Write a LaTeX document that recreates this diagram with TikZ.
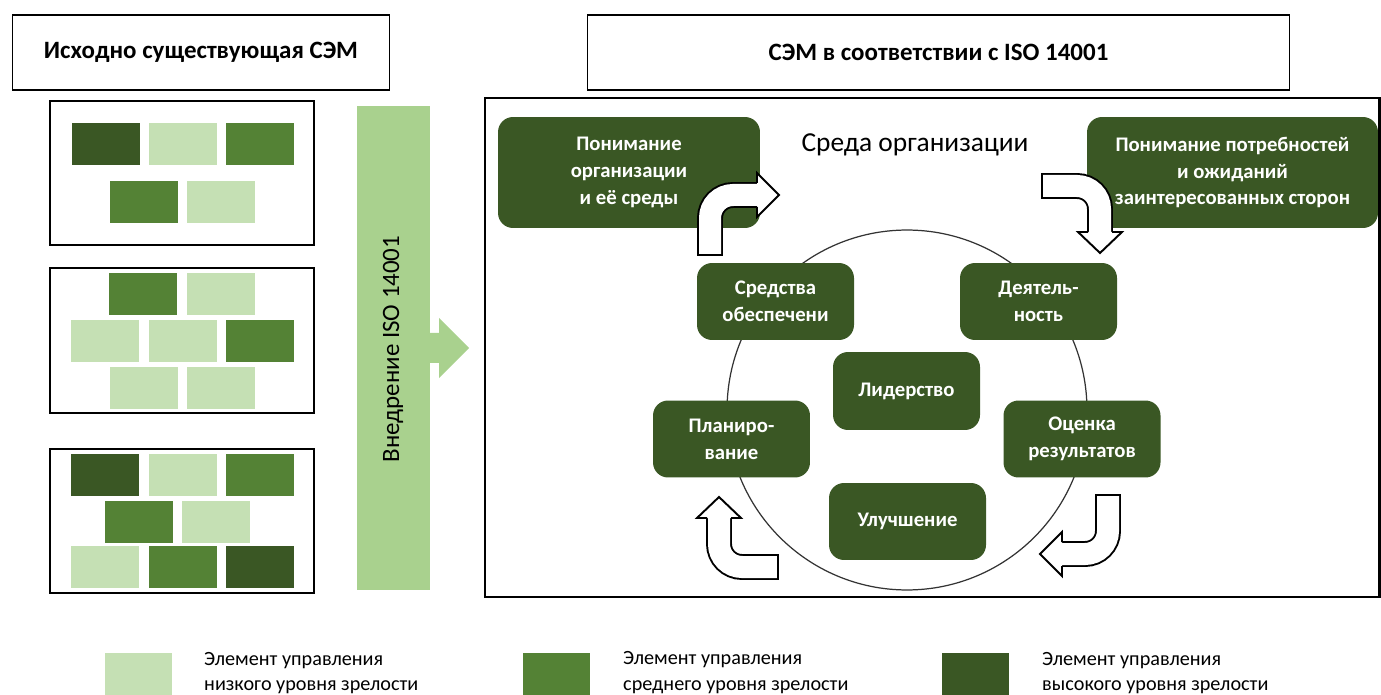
\documentclass[tikz,border=0pt]{standalone}
\usepackage{fontspec}
\setmainfont{Carlito}
\usepackage{tikz}

\definecolor{semdark}{HTML}{3A5724}
\definecolor{semmed}{HTML}{548235}
\definecolor{semlight}{HTML}{C5E0B4}
\definecolor{sembar}{HTML}{A9D18E}

\tikzset{
  header/.style={draw, line width=0.6pt, minimum height=1.5cm, font=\fontsize{14.2}{16}\selectfont\bfseries},
  stagebox/.style={fill=semdark, rounded corners=0.3cm, text=white, align=center, minimum width=3.14cm, minimum height=1.54cm, font=\fontsize{11.8}{15.3}\selectfont\bfseries},
  ctxbox/.style={stagebox, minimum height=2.22cm},
  turn/.style={line width=1.1pt, double=white, double distance=0.44cm, rounded corners=0.46cm},
  turnhead/.style={line width=1.1pt, fill=white, line join=miter},
  legtext/.style={anchor=west, align=left, font=\fontsize{11.5}{14.7}\selectfont},
}

\begin{document}
\begin{tikzpicture}[x=0.02cm, y=-0.02cm]
                \useasboundingbox (0,0) rectangle (1381,695);
                % Headers
                \node[header, minimum width=7.56cm] (hdrold) at (201,52.5) {Исходно существующая СЭМ};
                \node[header, minimum width=14.06cm] (hdrnew) at (938.5,52.5) {СЭМ в соответствии с ISO 14001};
                % Existing system
                \foreach \x/\y/\c in {72/123/semdark, 149/123/semlight, 226/123/semmed, 110/181/semmed, 187/181/semlight,
                    109/273/semmed, 187/273/semlight, 71/320/semlight, 149/320/semlight, 226/320/semmed, 110/367/semlight, 187/367/semlight,
                    71/454/semdark, 149/454/semlight, 226/454/semmed, 105/501/semmed, 182/501/semlight, 71/546/semlight, 149/546/semmed, 226/546/semdark}
                    \fill[\c] (\x,\y) rectangle ++(68,42);
                \foreach \y/\h in {101/245, 268/413, 449/593}
                    \draw[line width=1.5pt] (50,\y) rectangle (314,\h);
                % Implementation bar
                \fill[sembar] (357,106) rectangle (430,590);
                \fill[sembar] (430,333) -- (439,333) -- (439,318) -- (469,348) -- (439,378) -- (439,363) -- (430,363) -- cycle;
                \node[rotate=90, font=\fontsize{14.2}{16}\selectfont] (impl) at (393,349) {Внедрение ISO 14001};
                % ISO 14001 system
                \draw[line width=1.2pt] (485,98) rectangle (1379.5,597);
                \node[font=\fontsize{15.6}{18}\selectfont] (envtitle) at (915,145) {Среда организации};
                \draw[black!80, line width=0.7pt] (907,410) circle [radius=3.6cm];
                % Nodes
                \node[ctxbox, minimum width=5.24cm] (ctxorg) at (629,172.5) {Понимание\\организации\\и её среды};
                \node[ctxbox, minimum width=5.82cm] (ctxparties) at (1232.5,172.5) {Понимание потребностей\\и ожиданий\\заинтересованных сторон};
                \node[stagebox] (support) at (775.5,301.5) {Средства\\обеспечени};
                \node[stagebox] (operation) at (1038.5,301.5) {Деятель-\\ность};
                \node[stagebox, minimum width=2.94cm, minimum height=1.56cm] (leader) at (906.5,391) {Лидерство};
                \node[stagebox] (planning) at (731.5,439) {Планиро-\\вание};
                \node[stagebox] (evaluation) at (1082,439) {Оценка\\результатов};
                \node[stagebox] (improvement) at (907.5,521.5) {Улучшение};
                % Turn arrows
                \draw[turn] (710,255) -- (710,195) -- (757,195);
                \filldraw[turnhead] (757,183) -- (757,173) -- (779,195) -- (757,217) -- (757,207);
                \draw[line width=1.1pt] (697,255) -- (723,255);
                \draw[turn] (1042,186) -- (1100,186) -- (1100,232);
                \filldraw[turnhead] (1088,232) -- (1078,232) -- (1100,253) -- (1122,232) -- (1112,232);
                \draw[line width=1.1pt] (1042,173) -- (1042,199);
                \draw[turn] (1108,495) -- (1108,554) -- (1062,554);
                \filldraw[turnhead] (1062,542) -- (1062,532) -- (1040,554) -- (1062,576) -- (1062,566);
                \draw[line width=1.1pt] (1095,495) -- (1121,495);
                \draw[turn] (778,567) -- (719,567) -- (719,518);
                \filldraw[turnhead] (707,518) -- (697,518) -- (719,497) -- (741,518) -- (731,518);
                \draw[line width=1.1pt] (778,554) -- (778,580);
                % Legend
                \fill[semlight] (105,653) rectangle ++(67,42);
                \fill[semmed] (523,653) rectangle ++(67,42);
                \fill[semdark] (942,653) rectangle ++(67,42);
                \node[legtext] (leglow) at (198,673) {Элемент управления\\низкого уровня зрелости};
                \node[legtext] (legmid) at (617,673) {Элемент управления\\среднего уровня зрелости};
                \node[legtext] (leghigh) at (1036,673) {Элемент управления\\высокого уровня зрелости};
            \end{tikzpicture}
\end{document}
